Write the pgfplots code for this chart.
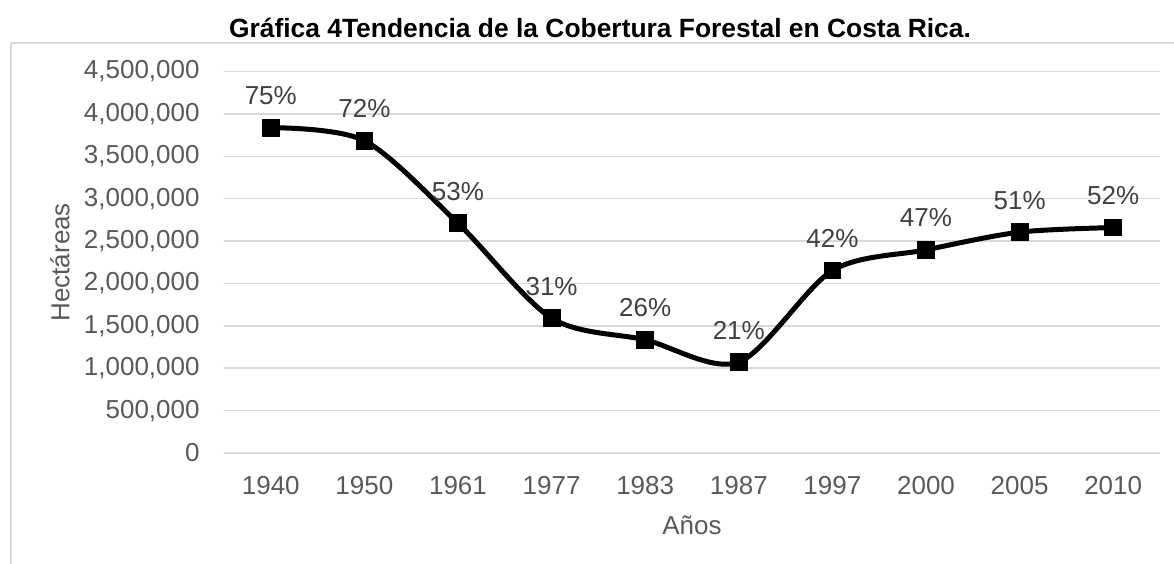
\documentclass[border=0pt]{standalone}
\usepackage{pgfplots}
\pgfplotsset{compat=1.18}
\usepackage{fontspec}
\setmainfont{Liberation Sans}
\definecolor{gridc}{HTML}{D9D9D9}
\definecolor{tickc}{HTML}{595959}
\definecolor{labc}{HTML}{404040}
\begin{document}
\begin{tikzpicture}[x=1pt,y=1pt]
\path[use as bounding box] (0,0) rectangle (587,281.5);
\draw[gridc, line width=0.75pt] (5.5,-2) -- (5.5,260) -- (590,260);
\node[font=\bfseries\fontsize{13.2}{15}\selectfont] at (300,267.5) {Gráfica 4Tendencia de la Cobertura Forestal en Costa Rica.};
\begin{axis}[
  at={(112pt,55pt)}, anchor=south west,
  scale only axis, width=468pt, height=190.75pt,
  xmin=-0.5, xmax=9.5, ymin=0, ymax=4500000,
  xtick={0,1,2,3,4,5,6,7,8,9},
  xticklabels={1940,1950,1961,1977,1983,1987,1997,2000,2005,2010},
  ytick={0,500000,1000000,1500000,2000000,2500000,3000000,3500000,4000000,4500000},
  scaled y ticks=false,
  /pgf/number format/.cd, fixed, 1000 sep={,}, assume math mode=true,
  /pgfplots/.cd,
  axis line style={draw=none},
  tick style={draw=none},
  ymajorgrids, major grid style={gridc, line width=0.75pt},
  ticklabel style={font=\fontsize{13}{15}\selectfont, text=tickc},
  yticklabel style={anchor=east, inner sep=0pt, xshift=-12pt},
  xticklabel style={anchor=center, inner sep=0pt, yshift=-16.5pt},
  xlabel={Años}, ylabel={Hectáreas},
  every axis x label/.style={at={(axis description cs:0.5,0)}, anchor=center, yshift=-36pt, font=\fontsize{13}{15}\selectfont, text=tickc},
  every axis y label/.style={at={(axis description cs:0,0.5)}, xshift=-82pt, rotate=90, anchor=center, font=\fontsize{13}{15}\selectfont, text=tickc},
  clip=false,
]
\addplot[black, line width=2.5pt, smooth, tension=0.5,
  mark=square*, mark size=4.2pt, mark options={line width=0.5pt},
  nodes near coords, point meta=explicit symbolic,
  nodes near coords style={font=\fontsize{13}{15}\selectfont, text=labc, anchor=center, yshift=16pt}]
coordinates {
(0,3837000) [75\%]
(1,3684000) [72\%]
(2,2710000) [53\%]
(3,1591000) [31\%]
(4,1335000) [26\%]
(5,1072000) [21\%]
(6,2152000) [42\%]
(7,2396000) [47\%]
(8,2605000) [51\%]
(9,2659000) [52\%]
};
\end{axis}
\end{tikzpicture}
\end{document}
